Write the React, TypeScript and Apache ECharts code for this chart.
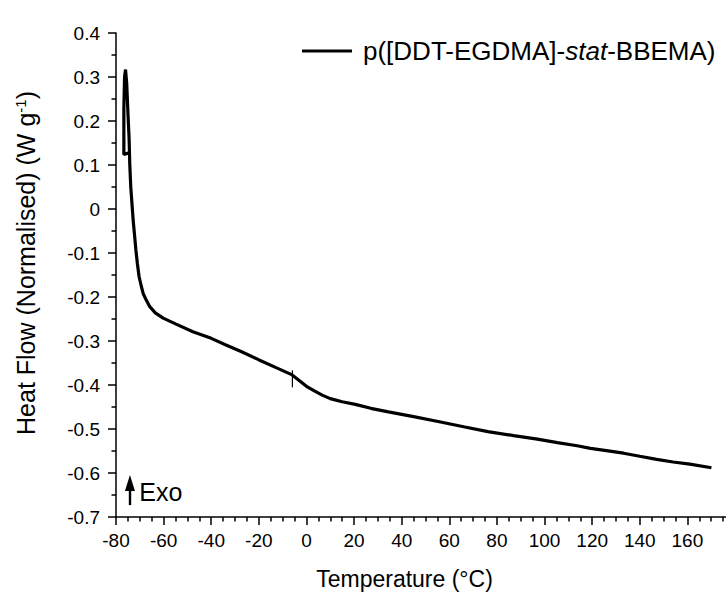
import React, { useEffect, useRef } from "react";
import * as echarts from "echarts";

const seriesName = "p([DDT-EGDMA]-stat-BBEMA)";
const temperature = [
  -74.5, -76.7, -76.7, -76.4, -76.0, -75.5, -75.0, -74.5, -74.2, -73.8, -73.4,
  -72.8, -72.2, -71.65, -71.0, -70.3, -69.4, -68.6, -67.3, -65.8, -63.5, -60.2,
  -55, -47.7, -40, -33.8, -27, -19.9, -13, -6.0, 0, 3.5, 6.6, 10, 15, 20.5, 27, 34.4, 45, 55.3,
  66, 76.2, 87, 97.0, 105.4, 113.7, 119.3, 126, 133.2, 140, 147.1, 154, 161.0, 170.1,
];
const heatFlow = [
  0.128, 0.124, 0.229, 0.3, 0.317, 0.285, 0.22, 0.16, 0.1, 0.05, 0.02,
  -0.025, -0.06, -0.093, -0.125, -0.154, -0.175, -0.192, -0.207, -0.222, -0.236, -0.248,
  -0.261, -0.279, -0.294, -0.309, -0.325, -0.343, -0.36, -0.377, -0.403, -0.414, -0.423, -0.431, -0.438, -0.444, -0.453, -0.461, -0.472, -0.483,
  -0.495, -0.506, -0.515, -0.523, -0.531, -0.538, -0.544, -0.549, -0.555, -0.562, -0.569, -0.575, -0.58, -0.588,
];
const tgMarker = [-5.9, -0.386];
const exoArrowX = -74.15;
const exoArrowFrom = -0.673;
const exoArrowTo = -0.623;
const exoLabelAt = [-70.2, -0.643];

const FONT = "'Liberation Sans', Arial, sans-serif";

export default function App() {
  const ref = useRef<HTMLDivElement>(null);
  useEffect(() => {
    if (!ref.current) return;
    const chart = echarts.init(ref.current, null, { renderer: "svg" });
    const data = temperature.map((t, i) => [t, heatFlow[i]]);
    chart.setOption({
      animation: false,
      backgroundColor: "#fff",
      textStyle: { fontFamily: FONT, color: "#000" },
      grid: { left: 116, top: 33, right: 0, bottom: 81 },
      legend: {
        data: [seriesName],
        left: 302,
        top: 38,
        padding: 0,
        icon: "rect",
        itemWidth: 50,
        itemHeight: 3,
        formatter: () => "p([DDT-EGDMA]-{i|stat}-BBEMA)",
        textStyle: {
          fontFamily: FONT,
          fontSize: 26,
          color: "#000",
          padding: [0, 0, 0, 6],
          rich: { i: { fontStyle: "italic", fontSize: 26, fontFamily: FONT, color: "#000" } },
        },
      },
      xAxis: {
        type: "value",
        min: -80,
        max: 180,
        interval: 20,
        name: "Temperature (°C)",
        nameLocation: "middle",
        nameGap: 50,
        nameTextStyle: { fontSize: 23, color: "#000", fontFamily: FONT, padding: [0, 42, 0, 0] },
        axisLine: { show: true, onZero: false, lineStyle: { color: "#000", width: 1.5 } },
        axisTick: { show: true, length: 8, lineStyle: { color: "#000", width: 1.5 } },
        minorTick: { show: true, splitNumber: 4, length: 4.5, lineStyle: { color: "#000", width: 1.5 } },
        splitLine: { show: false },
        axisLabel: {
          fontSize: 19,
          color: "#000",
          margin: 14,
          fontFamily: FONT,
          formatter: (v: number) => (v === 180 ? "" : String(v)),
        },
      },
      yAxis: {
        type: "value",
        min: -0.7,
        max: 0.4,
        interval: 0.1,
        name: "Heat Flow (Normalised) (W g{sup|-1})",
        nameLocation: "middle",
        nameGap: 78,
        nameTextStyle: {
          fontSize: 25,
          color: "#000",
          fontFamily: FONT,
          padding: [0, 0, 0, 24],
          rich: { sup: { fontSize: 15, verticalAlign: "top", color: "#000", fontFamily: FONT } },
        },
        axisLine: { show: true, onZero: false, lineStyle: { color: "#000", width: 1.5 } },
        axisTick: { show: true, length: 8, lineStyle: { color: "#000", width: 1.5 } },
        minorTick: { show: true, splitNumber: 2, length: 4.5, lineStyle: { color: "#000", width: 1.5 } },
        splitLine: { show: false },
        axisLabel: {
          fontSize: 19,
          color: "#000",
          margin: 16,
          fontFamily: FONT,
          formatter: (v: number) => (Math.abs(v) < 1e-9 ? "0" : v.toFixed(1)),
        },
      },
      series: [
        {
          name: seriesName,
          type: "line",
          data,
          symbol: "none",
          showSymbol: false,
          smooth: false,
          lineStyle: { color: "#000", width: 3.2 },
          itemStyle: { color: "#000" },
          markPoint: {
            silent: true,
            symbol: "rect",
            symbolSize: [1.2, 17],
            itemStyle: { color: "#000" },
            label: { show: false },
            data: [{ coord: tgMarker }],
          },
        },
        {
          name: "exo",
          type: "line",
          data: [[exoArrowX, exoArrowFrom]],
          symbol: "none",
          showSymbol: false,
          lineStyle: { width: 0 },
          markLine: {
            silent: true,
            symbol: ["none", "triangle"],
            symbolSize: [10, 16],
            lineStyle: { color: "#000", width: 2.4, type: "solid" },
            label: { show: false },
            data: [[{ coord: [exoArrowX, exoArrowFrom] }, { coord: [exoArrowX, exoArrowTo] }]],
          },
          markPoint: {
            silent: true,
            symbol: "circle",
            symbolSize: 0,
            label: {
              show: true,
              position: "right",
              distance: 0,
              formatter: "Exo",
              fontSize: 25,
              color: "#000",
              fontFamily: FONT,
            },
            data: [{ coord: exoLabelAt }],
          },
        },
      ],
    });
    return () => chart.dispose();
  }, []);
  return (
    <div
      ref={ref}
      style={{ position: "fixed", left: 0, top: 0, width: 738, height: 598 }}
    />
  );
}
